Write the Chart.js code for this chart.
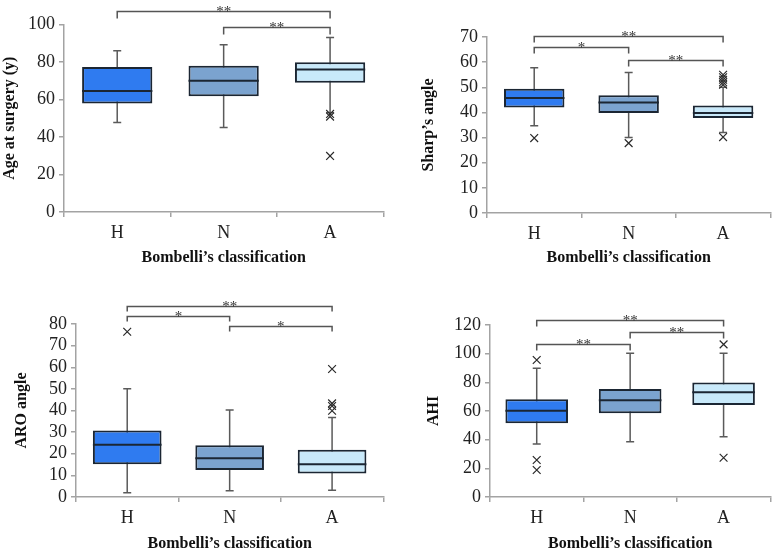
<!DOCTYPE html>
<html><head><meta charset="utf-8">
<script src="https://cdn.jsdelivr.net/npm/chart.js@4.4.1/dist/chart.umd.min.js"></script>
<style>
html,body{margin:0;padding:0;background:#fff;}
#wrap{position:relative;width:777px;height:554px;overflow:hidden;background:#fff;}
.p{position:absolute;}
</style></head><body>
<div id="wrap">
<div class="p" style="left:0;top:0;width:390px;height:277px"><canvas id="c1"></canvas></div>
<div class="p" style="left:390px;top:0;width:387px;height:277px"><canvas id="c2"></canvas></div>
<div class="p" style="left:0;top:277px;width:390px;height:277px"><canvas id="c3"></canvas></div>
<div class="p" style="left:390px;top:277px;width:387px;height:277px"><canvas id="c4"></canvas></div>
</div>
<script>
const categories = ['H', 'N', 'A'];
const xAxisTitle = 'Bombelli’s classification';

// Age at surgery
const ageLow = [47.8, 45.1, 53];
const ageQ1 = [57.9, 61.8, 68.9];
const ageMedian = [64.5, 70, 76];
const ageQ3 = [77.4, 78, 79.9];
const ageHigh = [86, 89.2, 93.1];
const ageOutliers = [[], [], [52.3, 50.9, 29.9]];
const ageTicks = [0, 20, 40, 60, 80, 100];
const ageComparisons = [['H', 'A', '**'], ['N', 'A', '**']];

// Sharp's angle
const sharpLow = [34.7, 30, 32];
const sharpQ1 = [42, 39.8, 37.8];
const sharpMedian = [45.7, 43.9, 39.8];
const sharpQ3 = [49.4, 46.8, 42.8];
const sharpHigh = [57.8, 55.9, 50];
const sharpOutliers = [[29.8], [27.8], [55, 54, 53, 52, 51, 30.2]];
const sharpTicks = [0, 10, 20, 30, 40, 50, 60, 70];
const sharpComparisons = [['H', 'A', '**'], ['H', 'N', '*'], ['N', 'A', '**']];

// ARO angle
const aroLow = [2, 2.9, 3.1];
const aroQ1 = [15.1, 12.5, 10.9];
const aroMedian = [24.2, 17.9, 15.1];
const aroQ3 = [30.8, 23.9, 21.9];
const aroHigh = [50.1, 40.2, 36.8];
const aroOutliers = [[76.4], [], [59.2, 43.3, 42.1, 39.9]];
const aroTicks = [0, 10, 20, 30, 40, 50, 60, 70, 80];
const aroComparisons = [['H', 'A', '**'], ['H', 'N', '*'], ['N', 'A', '*']];

// AHI
const ahiLow = [37, 38.6, 42.1];
const ahiQ1 = [51.4, 58.4, 64.2];
const ahiMedian = [60.2, 67.5, 73];
const ahiQ3 = [68.2, 75.4, 79.8];
const ahiHigh = [89.8, 100.3, 100.3];
const ahiOutliers = [[95.6, 25.8, 18.8], [], [106.5, 27.4]];
const ahiTicks = [0, 20, 40, 60, 80, 100, 120];
const ahiComparisons = [['H', 'A', '**'], ['N', 'A', '**'], ['H', 'N', '**']];

// ---------- styling / layout ----------
const boxColors = ['#2F7BF0', '#7BA3CF', '#C8E9FA'];
const FONT = "'Liberation Serif', 'Times New Roman', serif";

function makePanel(canvasId, d, s) {
  const H = 277;
  const boxData = categories.map((c, i) => [d.q1[i], d.q3[i]]);
  const outlierPts = [];
  d.outliers.forEach((arr, i) => arr.forEach(v => outlierPts.push({ x: categories[i], y: v })));

  const extras = {
    id: 'extras_' + canvasId,
    beforeDatasetsDraw(chart) {
      const { ctx, scales: { x, y } } = chart;
      ctx.save();
      ctx.strokeStyle = '#5a5a5a';
      ctx.lineWidth = 1.5;
      categories.forEach((c, i) => {
        const cx = x.getPixelForValue(i);
        const yl = y.getPixelForValue(d.low[i]);
        const yh = y.getPixelForValue(d.high[i]);
        ctx.beginPath();
        ctx.moveTo(cx, yl); ctx.lineTo(cx, yh);
        ctx.moveTo(cx - 4, yl); ctx.lineTo(cx + 4, yl);
        ctx.moveTo(cx - 4, yh); ctx.lineTo(cx + 4, yh);
        ctx.stroke();
      });
      ctx.restore();
    },
    afterDatasetsDraw(chart) {
      const { ctx, scales: { y } } = chart;
      const meta = chart.getDatasetMeta(0);
      ctx.save();
      ctx.strokeStyle = '#1b2633';
      ctx.lineWidth = 2;
      meta.data.forEach((bar, i) => {
        const pr = bar.getProps(['x', 'width'], true);
        const my = y.getPixelForValue(d.median[i]);
        ctx.beginPath();
        ctx.moveTo(pr.x - pr.width / 2, my);
        ctx.lineTo(pr.x + pr.width / 2, my);
        ctx.stroke();
      });
      ctx.restore();
    },
    afterDraw(chart) {
      const { ctx, scales: { x, y } } = chart;
      ctx.save();
      ctx.strokeStyle = '#555';
      ctx.lineWidth = 1.5;
      ctx.fillStyle = '#333';
      ctx.font = '15px ' + FONT;
      ctx.textAlign = 'center';
      ctx.textBaseline = 'alphabetic';
      d.comparisons.forEach((cmp, k) => {
        const x1 = x.getPixelForValue(categories.indexOf(cmp[0]));
        const x2 = x.getPixelForValue(categories.indexOf(cmp[1]));
        const ly = Math.round(y.getPixelForValue(s.levels[k])) + 0.5;
        ctx.beginPath();
        ctx.moveTo(x1, ly + s.drop);
        ctx.lineTo(x1, ly);
        ctx.lineTo(x2, ly);
        ctx.lineTo(x2, ly + s.drop);
        ctx.stroke();
        ctx.fillText(cmp[2], (x1 + x2) / 2, ly + 4);
      });
      ctx.restore();
    }
  };

  return new Chart(document.getElementById(canvasId), {
    type: 'bar',
    data: {
      labels: categories,
      datasets: [
        {
          type: 'bar',
          data: boxData,
          backgroundColor: boxColors,
          borderColor: '#1b2633',
          borderWidth: 2,
          borderSkipped: false,
          categoryPercentage: 1,
          barPercentage: s.boxFrac,
          order: 2
        },
        {
          type: 'scatter',
          data: outlierPts,
          pointStyle: 'crossRot',
          radius: 5.5,
          borderColor: '#2a2a2a',
          backgroundColor: '#2a2a2a',
          borderWidth: 1.2,
          clip: false,
          order: 1
        }
      ]
    },
    options: {
      responsive: true,
      maintainAspectRatio: false,
      animation: false,
      events: [],
      layout: { padding: { top: s.top, right: s.right, left: 0, bottom: 0 } },
      plugins: { legend: { display: false }, tooltip: { enabled: false } },
      scales: {
        x: {
          type: 'category',
          offset: true,
          grid: { display: true, drawOnChartArea: false, drawTicks: true, tickLength: 5, color: '#a3a3a3', lineWidth: 1.5, offset: true },
          border: { display: true, color: '#a3a3a3', width: 1.5 },
          ticks: { font: { family: FONT, size: 18 }, color: '#222', padding: 5 },
          title: { display: true, text: xAxisTitle, font: { family: FONT, size: 16, weight: 'bold' }, color: '#111', padding: { top: 0, bottom: s.xTitlePad } },
          afterFit(sc) { sc.height = H - s.bottom; }
        },
        y: {
          min: d.ticks[0],
          max: d.ticks[d.ticks.length - 1],
          afterBuildTicks(sc) { sc.ticks = d.ticks.map(v => ({ value: v })); },
          grid: { display: true, drawOnChartArea: false, drawTicks: true, tickLength: 5, color: '#a3a3a3', lineWidth: 1.5 },
          border: { display: true, color: '#a3a3a3', width: 1.5 },
          ticks: { font: { family: FONT, size: 18 }, color: '#222', padding: 4, autoSkip: false },
          title: { display: true, text: d.title, font: { family: FONT, size: 16, weight: 'bold' }, color: '#111', padding: { top: s.yTitlePad, bottom: 0 } },
          afterFit(sc) { sc.width = s.left; }
        }
      }
    },
    plugins: [extras]
  });
}

makePanel('c1',
  { title: 'Age at surgery (y)', low: ageLow, q1: ageQ1, median: ageMedian, q3: ageQ3, high: ageHigh, outliers: ageOutliers, ticks: ageTicks, comparisons: ageComparisons },
  { left: 64, right: 1, top: 24.5, bottom: 212, boxFrac: 0.66, yTitlePad: 0, xTitlePad: 9.4, levels: [107.2, 98.7], drop: 7 });

makePanel('c2',
  { title: 'Sharp’s angle', low: sharpLow, q1: sharpQ1, median: sharpMedian, q3: sharpQ3, high: sharpHigh, outliers: sharpOutliers, ticks: sharpTicks, comparisons: sharpComparisons },
  { left: 97, right: 2, top: 37, bottom: 213, boxFrac: 0.64, yTitlePad: 29.4, xTitlePad: 9.4, levels: [70.4, 66.0, 60.9], drop: 6 });

makePanel('c3',
  { title: 'ARO angle', low: aroLow, q1: aroQ1, median: aroMedian, q3: aroQ3, high: aroHigh, outliers: aroOutliers, ticks: aroTicks, comparisons: aroComparisons },
  { left: 76, right: 0, top: 47, bottom: 220, boxFrac: 0.67, yTitlePad: 12.4, xTitlePad: 0.4, levels: [88.3, 83.7, 79.1], drop: 5 });

makePanel('c4',
  { title: 'AHI', low: ahiLow, q1: ahiQ1, median: ahiMedian, q3: ahiQ3, high: ahiHigh, outliers: ahiOutliers, ticks: ahiTicks, comparisons: ahiComparisons },
  { left: 100, right: 2, top: 48, bottom: 220, boxFrac: 0.67, yTitlePad: 34.4, xTitlePad: 0.4, levels: [123.5, 115.1, 106.7], drop: 6 });
</script>
</body></html>
